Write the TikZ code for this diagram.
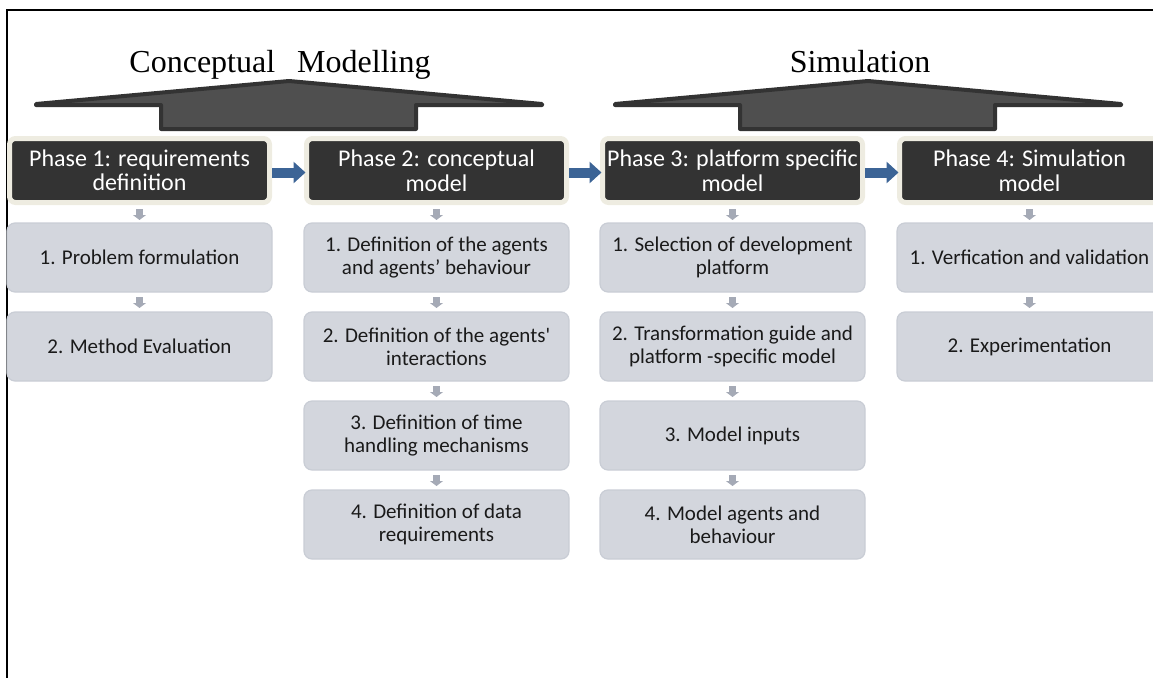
\documentclass[tikz,border=0pt]{standalone}
\usepackage{fontspec}
\setmainfont{Carlito}[Ligatures=TeXOff]
\newfontfamily\titlefont{Liberation Serif}
\usetikzlibrary{arrows.meta}

\definecolor{darkc}{HTML}{333333}
\definecolor{creamc}{HTML}{EEECE1}
\definecolor{grayc}{HTML}{D3D6DD}
\definecolor{grayline}{HTML}{C9CDD5}
\definecolor{arrowgray}{HTML}{A5AAB6}
\definecolor{bluec}{HTML}{3C6496}
\definecolor{hatfill}{HTML}{4F4F4F}
\definecolor{hatline}{HTML}{333333}
\definecolor{textc}{HTML}{1A1A1A}

\begin{document}
\begin{tikzpicture}[x=1pt,y=-1pt,
  phasebox/.style={draw=creamc, line width=5pt, fill=darkc, rounded corners=6pt,
    minimum width=260pt, minimum height=64pt, inner sep=0pt, outer sep=0pt,
    anchor=north west, align=center, text=white,
    font=\fontsize{24}{24.5}\selectfont},
  stepbox/.style={draw=grayline, line width=1.2pt, fill=grayc, rounded corners=8pt,
    minimum width=265pt, minimum height=69pt, inner sep=0pt, outer sep=0pt,
    anchor=north west, align=center, text=textc,
    font=\fontsize{21}{23}\selectfont},
  downarrow/.style={draw=arrowgray, line width=7pt, -{Triangle[width=13pt,length=5pt]}},
  flowarrow/.style={draw=bluec, line width=10pt, -{Triangle[width=21pt,length=12pt]}},
  hat/.style={fill=hatfill, draw=hatline, line width=4pt, line join=round},
  titletext/.style={anchor=base, inner sep=0pt, text=black,
    font=\titlefont\fontsize{32}{34}\selectfont},
  frameline/.style={draw=black, line width=2pt}
]
\useasboundingbox (0,0) rectangle (1153,677);
\clip (0,0) rectangle (1153,677);

% outer frame (left and top edges)
\draw[frameline] (7,678) -- (7,10) -- (1154,10);

% group titles
\node[titletext] (tconc) at (280,72) {Conceptual\hspace{22pt}Modelling};
\node[titletext] (tsim) at (860,72) {Simulation};

% bracket shapes under the titles
\filldraw[hat] (36,104) -- (289,81) -- (542,104) -- (542,105) -- (416,105) -- (416,129)
  -- (161,129) -- (161,105) -- (36,105) -- cycle;
\filldraw[hat, xshift=579pt] (36,104) -- (289,81) -- (542,104) -- (542,105) -- (416,105) -- (416,129)
  -- (161,129) -- (161,105) -- (36,105) -- cycle;

% phase headers
\node[phasebox] (ph1) at (9.5,138.5) {Phase 1: requirements\\definition};
\node[phasebox] (ph2) at (306.5,138.5) {Phase 2: conceptual\\model};
\node[phasebox] (ph3) at (602.5,138.5) {Phase 3: platform specific\\model};
\node[phasebox] (ph4) at (899.5,138.5) {Phase 4: Simulation\\model};

% column 1
\node[stepbox] (c1r1) at (7,223) {1. Problem formulation};
\node[stepbox] (c1r2) at (7,312) {2. Method Evaluation};

% column 2
\node[stepbox] (c2r1) at (304,223) {1. Definition of the agents\\and agents’ behaviour};
\node[stepbox] (c2r2) at (304,312) {2. Definition of the agents'\\interactions};
\node[stepbox] (c2r3) at (304,401) {3. Definition of time\\handling mechanisms};
\node[stepbox] (c2r4) at (304,490) {4. Definition of data\\requirements};

% column 3
\node[stepbox] (c3r1) at (600,223) {1. Selection of development\\platform};
\node[stepbox] (c3r2) at (600,312) {2. Transformation guide and\\platform -specific model};
\node[stepbox] (c3r3) at (600,401) {3. Model inputs};
\node[stepbox] (c3r4) at (600,490) {4. Model agents and\\behaviour};

% column 4
\node[stepbox] (c4r1) at (897,223) {1. Verfication and validation};
\node[stepbox] (c4r2) at (897,312) {2. Experimentation};

% small arrows from each header to its first step
\foreach \p/\s in {ph1/c1r1, ph2/c2r1, ph3/c3r1, ph4/c4r1}
  \draw[downarrow] ([yshift=-6.5pt]\p.south) -- ([yshift=3pt]\s.north);

% small arrows between consecutive steps
\foreach \a/\b in {c1r1/c1r2, c2r1/c2r2, c2r2/c2r3, c2r3/c2r4,
                   c3r1/c3r2, c3r2/c3r3, c3r3/c3r4, c4r1/c4r2}
  \draw[downarrow] ([yshift=-5pt]\a.south) -- ([yshift=4pt]\b.north);

% flow between phases
\foreach \a/\b in {ph1/ph2, ph2/ph3, ph3/ph4}
  \draw[flowarrow] ([xshift=2.5pt,yshift=-2pt]\a.east) -- ([xshift=-1pt,yshift=-2pt]\b.west);
\end{tikzpicture}
\end{document}
